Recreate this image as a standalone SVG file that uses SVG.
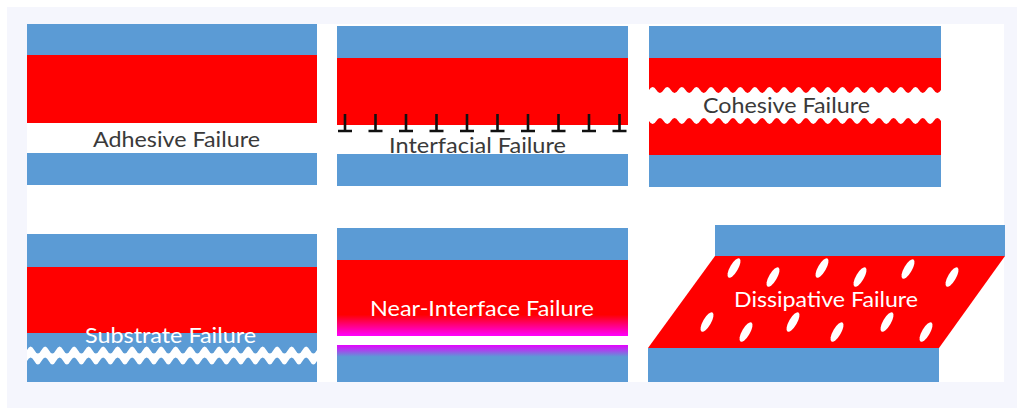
<svg xmlns="http://www.w3.org/2000/svg" xmlns:xlink="http://www.w3.org/1999/xlink" width="1017" height="408" viewBox="0 0 1017 408">
<style>
.blue{fill:#5B9BD5}
.red{fill:#FF0000}
.lbl{font-family:Lato,"Open Sans","Liberation Sans",sans-serif;font-size:22px;text-anchor:middle}
.dark{fill:#3A3A3A}
.white{fill:#FFFFFF}
.crack{fill:#FFFFFF}
.void{fill:#FFFFFF}
</style>
<defs>
<path id="tmark" d="M0,-17 V0 M-7,0 H7" stroke="#111" stroke-width="2.6" fill="none"/>
<linearGradient id="gRedMag" x1="0" y1="0" x2="0" y2="1">
<stop offset="0" stop-color="#FF0000"/>
<stop offset="0.72" stop-color="#FF0000"/>
<stop offset="1" stop-color="#FF00FF"/>
</linearGradient>
<linearGradient id="gMagBlue" x1="0" y1="0" x2="0" y2="1">
<stop offset="0" stop-color="#E600FF"/>
<stop offset="0.32" stop-color="#5B9BD5"/>
<stop offset="1" stop-color="#5B9BD5"/>
</linearGradient>
<ellipse id="void" rx="4" ry="11" class="void"/>
</defs>
<rect x="7" y="7" width="1010" height="401" fill="#F5F6FD"/>
<rect x="27" y="24" width="977" height="358" fill="#FFFFFF"/>

<g id="adhesive">
<rect class="blue" x="27" y="24" width="290" height="31"/>
<rect class="red" x="27" y="55" width="290" height="68"/>
<rect class="blue" x="27" y="153" width="290" height="32"/>
<text class="lbl dark" x="176.5" y="147" textLength="167" lengthAdjust="spacingAndGlyphs">Adhesive Failure</text>
</g>

<g id="interfacial">
<rect class="blue" x="337" y="26" width="291" height="32"/>
<rect class="red" x="337" y="58" width="291" height="67"/>
<use xlink:href="#tmark" x="345" y="131"/>
<use xlink:href="#tmark" x="375.5" y="131"/>
<use xlink:href="#tmark" x="406" y="131"/>
<use xlink:href="#tmark" x="436.5" y="131"/>
<use xlink:href="#tmark" x="467" y="131"/>
<use xlink:href="#tmark" x="497.5" y="131"/>
<use xlink:href="#tmark" x="528" y="131"/>
<use xlink:href="#tmark" x="558.5" y="131"/>
<use xlink:href="#tmark" x="589" y="131"/>
<use xlink:href="#tmark" x="619.5" y="131"/>
<rect class="blue" x="337" y="154" width="291" height="32"/>
<text class="lbl dark" x="477.5" y="153" textLength="177" lengthAdjust="spacingAndGlyphs">Interfacial Failure</text>
</g>

<g id="cohesive">
<rect class="blue" x="649" y="26" width="292" height="32"/>
<path class="red" d="M649,58 H941 V90 q-3.65,6 -7.3,0 t-7.3,0 t-7.3,0 t-7.3,0 t-7.3,0 t-7.3,0 t-7.3,0 t-7.3,0 t-7.3,0 t-7.3,0 t-7.3,0 t-7.3,0 t-7.3,0 t-7.3,0 t-7.3,0 t-7.3,0 t-7.3,0 t-7.3,0 t-7.3,0 t-7.3,0 t-7.3,0 t-7.3,0 t-7.3,0 t-7.3,0 t-7.3,0 t-7.3,0 t-7.3,0 t-7.3,0 t-7.3,0 t-7.3,0 t-7.3,0 t-7.3,0 t-7.3,0 t-7.3,0 t-7.3,0 t-7.3,0 t-7.3,0 t-7.3,0 t-7.3,0 t-7.3,0 Z"/>
<path class="red" d="M649,155 H941 V121 q-3.65,-6 -7.3,0 t-7.3,0 t-7.3,0 t-7.3,0 t-7.3,0 t-7.3,0 t-7.3,0 t-7.3,0 t-7.3,0 t-7.3,0 t-7.3,0 t-7.3,0 t-7.3,0 t-7.3,0 t-7.3,0 t-7.3,0 t-7.3,0 t-7.3,0 t-7.3,0 t-7.3,0 t-7.3,0 t-7.3,0 t-7.3,0 t-7.3,0 t-7.3,0 t-7.3,0 t-7.3,0 t-7.3,0 t-7.3,0 t-7.3,0 t-7.3,0 t-7.3,0 t-7.3,0 t-7.3,0 t-7.3,0 t-7.3,0 t-7.3,0 t-7.3,0 t-7.3,0 t-7.3,0 Z"/>
<rect class="blue" x="649" y="155" width="292" height="32"/>
<text class="lbl dark" x="786.5" y="113" textLength="167" lengthAdjust="spacingAndGlyphs">Cohesive Failure</text>
</g>

<g id="substrate">
<rect class="blue" x="27" y="234" width="290" height="33"/>
<rect class="red" x="27" y="267" width="290" height="66"/>
<rect class="blue" x="27" y="333" width="290" height="49"/>
<path class="crack" d="M27,350 q3.625,-7 7.25,0 t7.25,0 t7.25,0 t7.25,0 t7.25,0 t7.25,0 t7.25,0 t7.25,0 t7.25,0 t7.25,0 t7.25,0 t7.25,0 t7.25,0 t7.25,0 t7.25,0 t7.25,0 t7.25,0 t7.25,0 t7.25,0 t7.25,0 t7.25,0 t7.25,0 t7.25,0 t7.25,0 t7.25,0 t7.25,0 t7.25,0 t7.25,0 t7.25,0 t7.25,0 t7.25,0 t7.25,0 t7.25,0 t7.25,0 t7.25,0 t7.25,0 t7.25,0 t7.25,0 t7.25,0 t7.25,0 V361 q-3.625,7 -7.25,0 t-7.25,0 t-7.25,0 t-7.25,0 t-7.25,0 t-7.25,0 t-7.25,0 t-7.25,0 t-7.25,0 t-7.25,0 t-7.25,0 t-7.25,0 t-7.25,0 t-7.25,0 t-7.25,0 t-7.25,0 t-7.25,0 t-7.25,0 t-7.25,0 t-7.25,0 t-7.25,0 t-7.25,0 t-7.25,0 t-7.25,0 t-7.25,0 t-7.25,0 t-7.25,0 t-7.25,0 t-7.25,0 t-7.25,0 t-7.25,0 t-7.25,0 t-7.25,0 t-7.25,0 t-7.25,0 t-7.25,0 t-7.25,0 t-7.25,0 t-7.25,0 t-7.25,0 Z"/>
<text class="lbl white" x="170.5" y="343" textLength="171" lengthAdjust="spacingAndGlyphs">Substrate Failure</text>
</g>

<g id="near-interface">
<rect class="blue" x="337" y="228" width="291" height="32"/>
<rect x="337" y="260" width="291" height="76" fill="url(#gRedMag)"/>
<rect x="337" y="345" width="291" height="37" fill="url(#gMagBlue)"/>
<text class="lbl white" x="482" y="316" textLength="224" lengthAdjust="spacingAndGlyphs">Near-Interface Failure</text>
</g>

<g id="dissipative">
<rect class="blue" x="715" y="225" width="290" height="31"/>
<polygon class="red" points="715,256 1005,256 939,348 648,348"/>
<rect class="blue" x="648" y="348" width="291" height="34"/>
<use xlink:href="#void" transform="translate(734,268) rotate(30)"/>
<use xlink:href="#void" transform="translate(773,277) rotate(30)"/>
<use xlink:href="#void" transform="translate(822,268) rotate(30)"/>
<use xlink:href="#void" transform="translate(860,277) rotate(30)"/>
<use xlink:href="#void" transform="translate(908,269) rotate(30)"/>
<use xlink:href="#void" transform="translate(952,277) rotate(30)"/>
<use xlink:href="#void" transform="translate(707,322) rotate(30)"/>
<use xlink:href="#void" transform="translate(746,332) rotate(30)"/>
<use xlink:href="#void" transform="translate(793,322) rotate(30)"/>
<use xlink:href="#void" transform="translate(837,332) rotate(30)"/>
<use xlink:href="#void" transform="translate(887,322) rotate(30)"/>
<use xlink:href="#void" transform="translate(926,332) rotate(30)"/>
<text class="lbl white" x="826" y="307" textLength="184" lengthAdjust="spacingAndGlyphs">Dissipative Failure</text>
</g>
</svg>
